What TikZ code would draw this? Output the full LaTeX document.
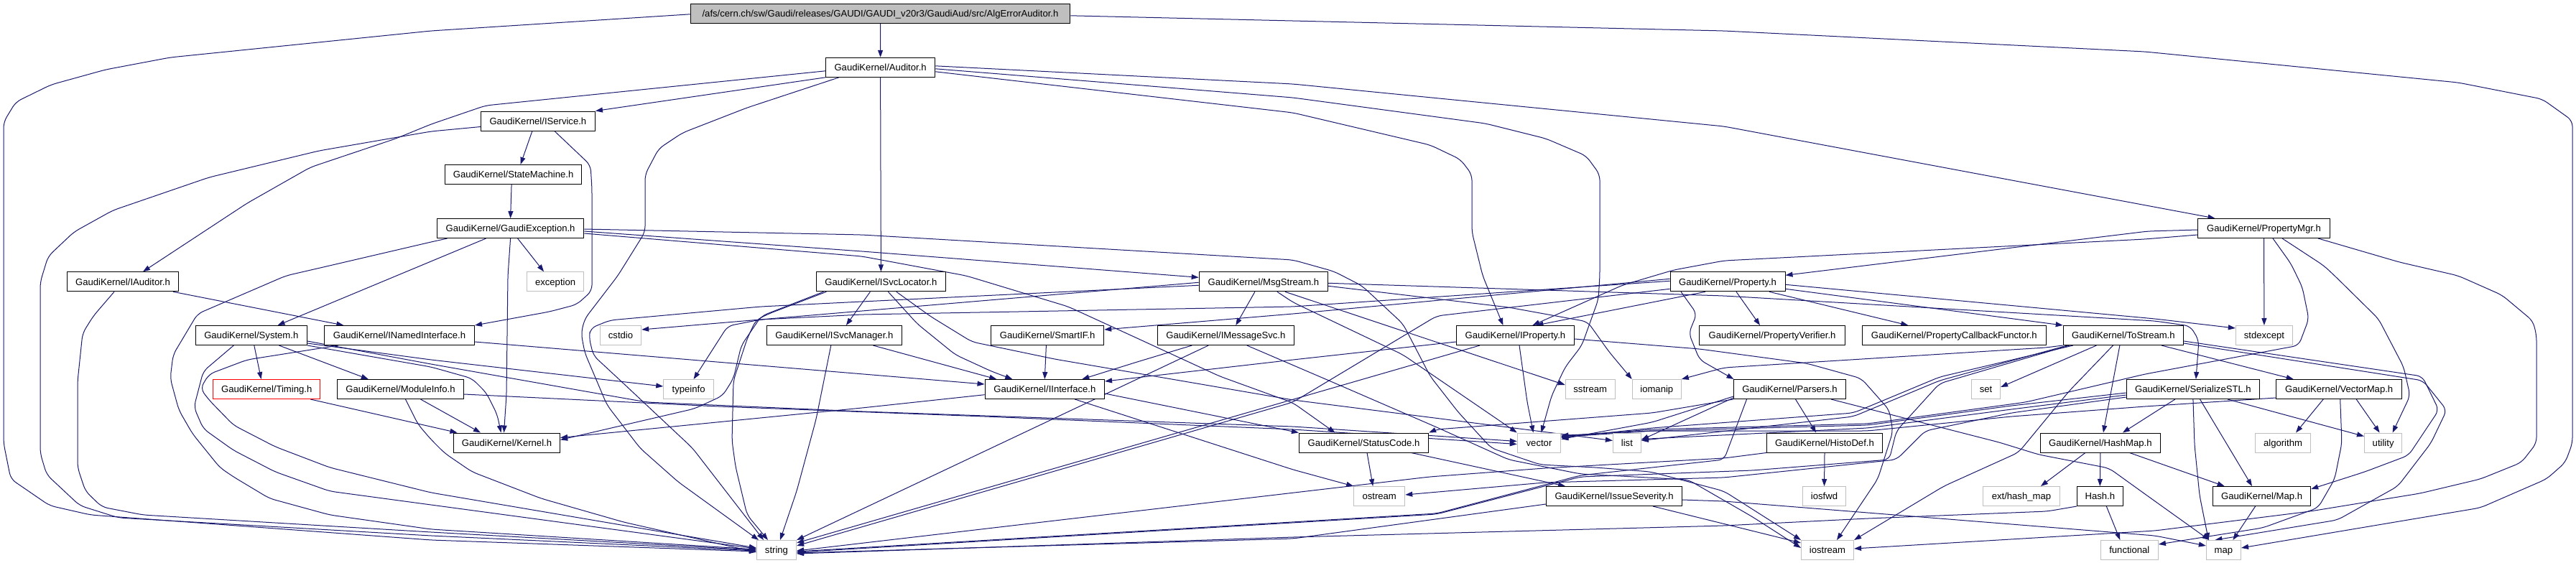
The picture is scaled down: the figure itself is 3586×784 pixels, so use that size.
\documentclass[tikz,border=0pt]{standalone}
\usepackage{fontspec}
\setmainfont{Liberation Sans}
\usetikzlibrary{arrows.meta}
\definecolor{edgecol}{HTML}{191970}
\definecolor{sysgray}{HTML}{BFBFBF}
\definecolor{rootfill}{HTML}{BFBFBF}
\newcommand\gfont{\fontsize{13.1}{15}\selectfont}
\pgfdeclarelayer{bg}
\pgfsetlayers{bg,main}
\tikzset{
  nd/.style={draw=black, line width=1pt, fill=white, minimum height=27pt, inner sep=0pt, text height=9.6pt, text depth=0.2pt, font=\gfont, text=black},
  sys/.style={nd, draw=sysgray},
  lnk/.style={draw=edgecol, line width=1pt, rounded corners=8pt, -{Triangle[length=10pt,width=7pt]}},
}
\begin{document}
\begin{tikzpicture}[x=1pt,y=-1pt]
\useasboundingbox (0,0) rectangle (3586,784);
% ---------------- nodes
\node[nd, fill=rootfill, minimum width=528.5pt] (root) at (1225.5,18.8) {/afs/cern.ch/sw/Gaudi/releases/GAUDI/GAUDI\_v20r3/GaudiAud/src/AlgErrorAuditor.h};
\node[nd, minimum width=152.3pt] (auditor) at (1225.6,93.8) {GaudiKernel/Auditor.h};
\node[nd, minimum width=159.1pt] (iservice) at (748.9,168.5) {GaudiKernel/IService.h};
\node[nd, minimum width=190.2pt] (statemachine) at (714.6,243) {GaudiKernel/StateMachine.h};
\node[nd, minimum width=204.4pt] (gexc) at (710.6,318) {GaudiKernel/GaudiException.h};
\node[nd, minimum width=184pt] (propmgr) at (3151.5,318) {GaudiKernel/PropertyMgr.h};
\node[nd, minimum width=155.3pt] (iauditor) at (171,392.3) {GaudiKernel/IAuditor.h};
\node[sys, minimum width=79.3pt] (exception) at (773.1,392.3) {exception};
\node[nd, minimum width=179.8pt] (isvcloc) at (1226.4,392.3) {GaudiKernel/ISvcLocator.h};
\node[nd, minimum width=179.5pt] (msgstream) at (1758.9,392.3) {GaudiKernel/MsgStream.h};
\node[nd, minimum width=160pt] (property) at (2405,392.3) {GaudiKernel/Property.h};
\node[nd, minimum width=155.3pt] (system) at (349.8,467) {GaudiKernel/System.h};
\node[nd, minimum width=209pt] (inamed) at (556,467) {GaudiKernel/INamedInterface.h};
\node[sys, minimum width=57.4pt] (cstdio) at (864,467) {cstdio};
\node[nd, minimum width=188.3pt] (isvcmgr) at (1161.4,467) {GaudiKernel/ISvcManager.h};
\node[nd, minimum width=157.2pt] (smartif) at (1458.1,467) {GaudiKernel/SmartIF.h};
\node[nd, minimum width=189.7pt] (imsgsvc) at (1706.3,467) {GaudiKernel/IMessageSvc.h};
\node[nd, minimum width=164.2pt] (iproperty) at (2109.4,467) {GaudiKernel/IProperty.h};
\node[nd, minimum width=202.8pt] (propverifier) at (2467,467) {GaudiKernel/PropertyVerifier.h};
\node[nd, minimum width=256.4pt] (propcb) at (2720.3,467) {GaudiKernel/PropertyCallbackFunctor.h};
\node[nd, minimum width=167.4pt] (tostream) at (2955.9,467) {GaudiKernel/ToStream.h};
\node[sys, minimum width=79.2pt] (stdexcept) at (3151.9,467) {stdexcept};
\node[nd, draw=red, minimum width=149.2pt] (timing) at (371.2,542) {GaudiKernel/Timing.h};
\node[nd, minimum width=176pt] (moduleinfo) at (557.5,542) {GaudiKernel/ModuleInfo.h};
\node[sys, minimum width=69.7pt] (typeinfo) at (958.6,542) {typeinfo};
\node[nd, minimum width=166.5pt] (iinterface) at (1454.3,542) {GaudiKernel/IInterface.h};
\node[sys, minimum width=68.9pt] (sstream) at (2213.7,542) {sstream};
\node[sys, minimum width=68.1pt] (iomanip) at (2306.3,542) {iomanip};
\node[nd, minimum width=156.1pt] (parsers) at (2491.5,542) {GaudiKernel/Parsers.h};
\node[sys, minimum width=40.2pt] (set) at (2764.5,542) {set};
\node[nd, minimum width=185.4pt] (serialize) at (3052.9,542) {GaudiKernel/SerializeSTL.h};
\node[nd, minimum width=175.3pt] (vectormap) at (3256.2,542) {GaudiKernel/VectorMap.h};
\node[nd, minimum width=148.1pt] (kernel) at (705.5,616.5) {GaudiKernel/Kernel.h};
\node[nd, minimum width=180.2pt] (statuscode) at (1898.5,616.5) {GaudiKernel/StatusCode.h};
\node[sys, minimum width=60.5pt] (vector) at (2142.5,616.5) {vector};
\node[sys, minimum width=39pt] (list) at (2264.9,616.5) {list};
\node[nd, minimum width=161.5pt] (histodef) at (2540,616.5) {GaudiKernel/HistoDef.h};
\node[nd, minimum width=167pt] (hashmap) at (2923.9,616.5) {GaudiKernel/HashMap.h};
\node[sys, minimum width=77.3pt] (algorithm) at (3178,616.5) {algorithm};
\node[sys, minimum width=52.4pt] (utility) at (3317.6,616.5) {utility};
\node[sys, minimum width=71.1pt] (ostream) at (1920.2,691) {ostream};
\node[nd, minimum width=189.1pt] (issue) at (2247,691) {GaudiKernel/IssueSeverity.h};
\node[sys, minimum width=60.1pt] (iosfwd) at (2539.5,691) {iosfwd};
\node[sys, minimum width=106.7pt] (hashext) at (2813.9,691) {ext/hash\_map};
\node[nd, minimum width=63.9pt] (hash) at (2923.3,691) {Hash.h};
\node[nd, minimum width=136.2pt] (mapk) at (3148.6,691) {GaudiKernel/Map.h};
\node[sys, minimum width=55.2pt] (string) at (1081,766) {string};
\node[sys, minimum width=73.1pt] (iostream) at (2544,766) {iostream};
\node[sys, minimum width=80.2pt] (functional) at (2964.3,766) {functional};
\node[sys, minimum width=48.2pt] (map) at (3095.4,766) {map};
% ---------------- edges
\begin{pgfonlayer}{bg}
\fill[white] (0,0) rectangle (3586,784);
% root
\draw[lnk] (root.south) -- (auditor.north);
\draw[lnk] ([yshift=-1pt]root.west) -- (600,43) -- (237,80) -- (147,97) -- (71,118) -- (22,142) -- (5,170) -- (5,617) -- (15,667) -- (69,704) -- (126,717) -- (600,752) -- ([yshift=-2pt]string.west);
\draw[lnk] ([yshift=-3pt]root.east) -- (2400,43) -- (2986,72) -- (3422,115) -- (3539,138) -- (3581,168) -- (3581,617) -- (3571,644) -- (3545,667) -- (3453,707) -- ([yshift=3pt]map.east);
% auditor
\draw[lnk] (auditor.south west) -- (iservice.north east);
\draw[lnk] ([yshift=-5pt]auditor.west) -- (676,147) -- (600,173) -- (551,193) -- (432,233) -- (344,283) -- ([xshift=28pt]iauditor.north);
\draw[lnk] (auditor.south) -- (isvcloc.north);
\draw[lnk] ([xshift=-57.6pt]auditor.south) -- (1040,150) -- (950,185) -- (917,207) -- (898,243) -- (898,323) -- (860,384) -- (814,444) -- (809,464) -- (814,491) -- (845,564) -- (891,624) -- (944,671) -- ([xshift=-25pt]string.north);
\draw[lnk] ([yshift=2pt]auditor.east) -- (1800,117) -- (2400,176) -- ([xshift=-68pt]propmgr.north);
\draw[lnk] ([yshift=-6pt]auditor.east) -- (1800,157) -- (1991,202) -- (2033,222) -- (2049,243) -- (2049,323) -- (2064,384) -- ([xshift=-17pt]iproperty.north);
\draw[lnk] ([yshift=-2pt]auditor.east) -- (1800,136) -- (2068,172) -- (2152,193) -- (2208,217) -- (2227,243) -- (2227,384) -- (2225,417) -- (2202,481) -- (2179,511) -- (2160,551) -- ([xshift=3pt]vector.north);
% iservice
\draw[lnk] ([xshift=-8pt]iservice.south) -- ([xshift=10pt]statemachine.north);
\draw[lnk] ([xshift=23pt]iservice.south) -- (822,230) -- (824,262) -- (824,405) -- (803,424) -- (765,434) -- (inamed.north east);
\draw[lnk] ([yshift=-8pt]iservice.west) -- (600,183) -- (444,210) -- (291,247) -- (157,293) -- (103,323) -- (67,357) -- (56,393) -- (56,631) -- (65,661) -- (111,704) -- (165,721) -- (600,746) -- ([yshift=-1pt]string.west);
% iauditor
\draw[lnk] ([xshift=70pt]iauditor.south) -- ([xshift=-77.6pt]inamed.north);
\draw[lnk] ([xshift=-12pt]iauditor.south) -- (130,440) -- (115,464) -- (108,531) -- (108,651) -- (119,684) -- (142,706) -- (199,717) -- (600,741) -- (string.west);
% statemachine
\draw[lnk] ([xshift=-2.5pt]statemachine.south) -- (gexc.north);
% gaudi exception
\draw[lnk] ([xshift=10pt]gexc.south) -- ([xshift=-16pt]exception.north);
\draw[lnk] (gexc.south) -- (707,384) -- (705,550) -- ([xshift=-4pt]kernel.north);
\draw[lnk] ([xshift=-34pt]gexc.south) -- ([xshift=36.7pt]system.north);
\draw[lnk] ([xshift=-88pt]gexc.south) -- (600,337) -- (450,372) -- (398,384) -- (275,437) -- (241,494) -- (237,527) -- (249,571) -- (268,604) -- (306,651) -- (325,664) -- (375,694) -- (459,717) -- (600,737) -- ([yshift=1pt]string.west);
\draw[lnk] ([yshift=-4pt]gexc.east) -- (1200,350) -- ([yshift=6pt]msgstream.west);
\draw[lnk] ([yshift=-1pt]gexc.east) -- (1200,327) -- (1800,362) -- (1857,378) -- (1896,398) -- (1953,451) -- (1991,524) -- (2030,574) -- (2076,624) -- (2144,647) -- (2221,651) -- (2298,657) -- (2400,684) -- (iostream.north west);
\draw[lnk] ([yshift=-7pt]gexc.east) -- (1200,357) -- (1345,384) -- (1487,427) -- (1583,471) -- (1698,524) -- (1800,561) -- ([xshift=-40pt]statuscode.north);
% system
\draw[lnk] ([xshift=4pt]system.south) -- ([xshift=-7.6pt]timing.north);
\draw[lnk] ([xshift=38.6pt]system.south) -- ([xshift=-44.7pt]moduleinfo.north);
\draw[lnk] ([yshift=-11pt]system.east) -- (600,501) -- ([yshift=4pt]typeinfo.west);
\draw[lnk] (system.south east) -- (600,511) -- (657,527) -- (677,547) -- (692,577) -- ([xshift=-8pt]kernel.north);
\draw[lnk] ([xshift=-24.5pt]system.south) -- (283,517) -- (270,567) -- (283,597) -- (325,627) -- (383,657) -- (459,684) -- (600,703) -- ([yshift=2pt]string.west);
\draw[lnk] ([yshift=-8pt]system.east) -- (600,507) -- (900,560) -- (1200,573) -- (1800,594) -- ([yshift=2pt]vector.west);
% inamed
\draw[lnk] ([yshift=-9pt]inamed.east) -- ([yshift=7pt]iinterface.west);
\draw[lnk] ([xshift=-85pt]inamed.south) -- (344,501) -- (291,521) -- (279,541) -- (291,557) -- (325,592) -- (383,622) -- (459,651) -- (600,686) -- ([yshift=3pt]string.west);
% timing, moduleinfo
\draw[lnk] ([xshift=61pt]timing.south) -- ([xshift=-69pt]kernel.north);
\draw[lnk] ([xshift=28pt]moduleinfo.south) -- ([xshift=-36.5pt]kernel.north);
\draw[lnk] ([xshift=7pt]moduleinfo.south) -- (582,591) -- (600,612) -- (619,631) -- (657,657) -- (753,694) -- (868,727) -- ([yshift=-3pt]string.west);
\draw[lnk] ([yshift=-7pt]moduleinfo.east) -- (1000,566) -- (1371,580) -- (1800,598) -- ([yshift=-2pt]vector.west);
% isvclocator
\draw[lnk] ([xshift=-15pt]isvcloc.south) -- ([xshift=16.5pt]isvcmgr.north);
\draw[lnk] ([xshift=10pt]isvcloc.south) -- (1277,451) -- (1330,494) -- (1380,517) -- ([xshift=-45pt]iinterface.north);
\draw[lnk] ([xshift=21.4pt]isvcloc.south) -- (1296,441) -- (1353,476) -- (1468,500) -- (1800,557) -- ([yshift=3pt]list.west);
\draw[lnk] ([xshift=-76pt]isvcloc.south) -- (1070,437) -- (1052,446) -- (1040,472) -- (1021,530) -- (1019,614) -- (1024,650) -- (1040,717) -- ([xshift=-12pt]string.north);
\draw[lnk] ([xshift=-80pt]isvcloc.south) -- (1060,440) -- (1032,481) -- (1021,527) -- (1006,551) -- (967,569) -- ([yshift=4pt]kernel.east);
% isvcmanager, smartif, imessagesvc
\draw[lnk] ([xshift=54pt]isvcmgr.south) -- ([xshift=-67pt]iinterface.north);
\draw[lnk] ([xshift=-4.6pt]isvcmgr.south) -- (1136,584) -- (1109,684) -- ([xshift=5pt]string.north);
\draw[lnk] ([xshift=-1.7pt]smartif.south) -- (iinterface.north);
\draw[lnk] ([xshift=-47pt]imsgsvc.south) -- (1583,504) -- ([xshift=52pt]iinterface.north);
\draw[lnk] ([xshift=-24pt]imsgsvc.south) -- (string.north east);
\draw[lnk] ([xshift=29.5pt]imsgsvc.south) -- (1850,530) -- (2000,595) -- (2100,640) -- (2200,660) -- (2350,668) -- (2440,720) -- ([yshift=3pt]iostream.west);
% msgstream
\draw[lnk] ([xshift=-12pt]msgstream.south) -- ([xshift=14pt]imsgsvc.north);
\draw[lnk] ([yshift=-1pt]msgstream.west) -- ([yshift=8pt]cstdio.east);
\draw[lnk] ([yshift=-5pt]msgstream.west) -- (1200,420) -- (1059,427) -- (849,446) -- (822,457) -- (820,470) -- (826,495) -- (868,534) -- (964,624) -- ([xshift=-18pt]string.north);
\draw[lnk] ([xshift=30pt]msgstream.south) -- ([yshift=6pt]sstream.west);
\draw[lnk] ([yshift=-6pt]msgstream.east) -- (2100,428) -- (2210,448) -- (2240,490) -- (iomanip.north west);
\draw[lnk] ([xshift=19pt]msgstream.south) -- (1800,421) -- (1953,494) -- (vector.north west);
\draw[lnk] ([yshift=-2pt]msgstream.east) -- (2400,412) -- (3000,447) -- (3049,454) -- (3061,474) -- ([xshift=4pt]serialize.north);
% property
\draw[lnk] ([xshift=-31pt]property.south) -- ([xshift=29pt]iproperty.north);
\draw[lnk] ([xshift=12pt]property.south) -- ([xshift=-17pt]propverifier.north);
\draw[lnk] ([xshift=58pt]property.south) -- ([xshift=-64pt]propcb.north);
\draw[lnk] ([yshift=-10pt]property.east) -- (tostream.north west);
\draw[lnk] ([yshift=-4pt]property.east) -- (3000,444) -- ([yshift=10pt]stdexcept.west);
\draw[lnk] ([xshift=-65pt]property.south) -- (2362,437) -- (2351,464) -- (2366,501) -- ([xshift=-78pt]parsers.north);
\draw[lnk] ([yshift=4pt]property.west) -- (1800,437) -- ([yshift=8pt]smartif.east);
\draw[lnk] ([yshift=1pt]property.west) -- (1800,427) -- (1200,438) -- (1059,445) -- (1013,454) -- ([xshift=7pt]typeinfo.north);
\draw[lnk] ([yshift=-10pt]property.west) -- (2000,440) -- (1800,560) -- ([yshift=6pt]string.east);
% propertymgr
\draw[lnk] ([yshift=-2pt]propmgr.west) -- (2990,322) -- ([yshift=9pt]property.east);
\draw[lnk] ([yshift=-9pt]propmgr.west) -- (2986,333) -- (2400,363) -- (2330,376) -- (2259,397) -- ([xshift=24pt]iproperty.north);
\draw[lnk] (propmgr.south) -- (stdexcept.north);
\draw[lnk] ([xshift=25.5pt]propmgr.south) -- (3235,370) -- (3250,384) -- (3311,444) -- (3346,511) -- (3355,551) -- ([xshift=13pt]utility.north);
\draw[lnk] ([xshift=12.5pt]propmgr.south) -- (3189,367) -- (3205,400) -- (3214,444) -- (3200,481) -- (2986,521) -- (2820,560) -- (2600,590) -- (2300,598) -- ([yshift=9pt]vector.east);
\draw[lnk] ([xshift=75.5pt]propmgr.south) -- (3340,365) -- (3422,384) -- (3483,411) -- (3526,447) -- (3531,467) -- (3531,617) -- (3510,644) -- (3453,667) -- (3369,687) -- (3216,712) -- (3000,739) -- ([yshift=2pt]iostream.east);
% iproperty
\draw[lnk] ([yshift=-9pt]iproperty.west) -- (1800,501) -- ([yshift=11pt]iinterface.east);
\draw[lnk] ([xshift=-49.4pt]iproperty.south) -- ([yshift=10pt]string.east);
\draw[lnk] ([xshift=5.6pt]iproperty.south) -- (2126,560) -- ([xshift=-8pt]vector.north);
\draw[lnk] ([yshift=-5pt]iproperty.east) -- (2366,486) -- (2515,506) -- (2591,527) -- (2630,571) -- (2635,601) -- (2614,667) -- ([xshift=13pt]iostream.north);
% parsers
\draw[lnk] ([xshift=8pt]parsers.south) -- ([xshift=-11.8pt]histodef.north);
\draw[lnk] ([xshift=57.5pt]parsers.south) -- (2783,616) -- (2838,633) -- (2936,652) -- (2986,688) -- ([xshift=-20pt]map.north);
\draw[lnk] (parsers.south west) -- (2300,575) -- (2000,598) -- (statuscode.north east);
\draw[lnk] ([yshift=-10pt]parsers.west) -- (2300,588) -- ([yshift=5pt]vector.east);
\draw[lnk] ([yshift=-12pt]parsers.west) -- ([yshift=4pt]list.east);
\draw[lnk] ([xshift=-60pt]parsers.south) -- (2400,640) -- (2200,662) -- (2000,715) -- ([yshift=-2pt]string.east);
% tostream
\draw[lnk] ([xshift=-37.4pt]tostream.south) -- ([yshift=3pt]set.east);
\draw[lnk] ([xshift=-5pt]tostream.south) -- ([xshift=4pt]hashmap.north);
\draw[lnk] ([xshift=-14.4pt]tostream.south) -- (2880,545) -- (2810,630) -- (2706,677) -- (iostream.north east);
\draw[lnk] ([xshift=53pt]tostream.south) -- ([xshift=-63.5pt]vectormap.north);
\draw[lnk] ([yshift=-8pt]tostream.east) -- (3372,524) -- (3395,571) -- (3353,634) -- (3292,657) -- ([yshift=10pt]mapk.east);
\draw[lnk] ([yshift=-11pt]tostream.east) -- (3373,530) -- (3406,571) -- (3384,617) -- (3338,677) -- (3254,724) -- ([xshift=-12pt]map.north);
\draw[lnk] (tostream.south west) -- (2848,484) -- (2400,512) -- (iomanip.north east);
\draw[lnk] ([xshift=-70pt]tostream.south) -- (2700,525) -- (2580,575) -- (2300,596) -- ([yshift=7pt]vector.east);
\draw[lnk] ([xshift=-78pt]tostream.south) -- (2700,530) -- (2580,580) -- ([yshift=3pt]list.east);
\draw[lnk] ([xshift=-75pt]tostream.south) -- (2700,534) -- (2640,600) -- (2630,640) -- (2440,655) -- (2200,664) -- (2000,716) -- ([yshift=-3pt]string.east);
% serialize
\draw[lnk] ([xshift=-25pt]serialize.south) -- ([xshift=31pt]hashmap.north);
\draw[lnk] (serialize.south) -- (3055,620) -- (3062,690) -- ([xshift=-21pt]map.north);
\draw[lnk] ([xshift=9.6pt]serialize.south) -- ([xshift=-13.6pt]mapk.north);
\draw[lnk] ([xshift=48pt]serialize.south) -- ([yshift=9pt]utility.west);
\draw[lnk] ([yshift=-5pt]serialize.west) -- (2800,565) -- (2600,592) -- (2300,600) -- ([yshift=8pt]vector.east);
\draw[lnk] ([yshift=-8pt]serialize.west) -- (2800,570) -- (2600,596) -- ([yshift=5pt]list.east);
\draw[lnk] ([yshift=-11pt]serialize.west) -- (2800,575) -- (2680,600) -- (2640,640) -- (2400,665) -- (2150,672) -- ([yshift=2pt]ostream.east);
% vectormap
\draw[lnk] ([xshift=-22pt]vectormap.south) -- ([xshift=18pt]algorithm.north);
\draw[lnk] ([xshift=24pt]vectormap.south) -- ([xshift=-5pt]utility.north);
\draw[lnk] ([yshift=-12pt]vectormap.west) -- (2986,566) -- (2800,580) -- (2600,600) -- (2300,600) -- ([yshift=10pt]vector.east);
\draw[lnk] ([xshift=1.5pt]vectormap.south) -- (3260,617) -- (3250,667) -- (3227,707) -- (3150,735) -- ([yshift=8pt]functional.east);
% hashmap, hash, map
\draw[lnk] (hashmap.south) -- (hash.north);
\draw[lnk] ([xshift=-21pt]hashmap.south) -- ([xshift=27pt]hashext.north);
\draw[lnk] ([xshift=40.6pt]hashmap.south) -- ([xshift=-52pt]mapk.north);
\draw[lnk] ([xshift=9pt]hash.south) -- ([xshift=-13pt]functional.north);
\draw[lnk] (hash.south west) -- (2850,712) -- (2600,722) -- (2400,732) -- (1800,748) -- ([yshift=-5pt]string.east);
\draw[lnk] ([xshift=-9pt]mapk.south) -- ([xshift=13pt]map.north);
% histodef
\draw[lnk] (histodef.south) -- (iosfwd.north);
\draw[lnk] (histodef.south west) -- (2400,638) -- (2150,652) -- (1990,664) -- ([yshift=-1pt]string.east);
% issue severity, statuscode
\draw[lnk] ([yshift=-11pt]issue.west) -- (1800,750) -- ([yshift=-4pt]string.east);
\draw[lnk] ([yshift=-5pt]issue.east) -- (2400,698) -- (3000,746) -- ([yshift=6pt]map.west);
\draw[lnk] ([xshift=54pt]issue.south) -- ([yshift=10pt]iostream.west);
\draw[lnk] ([xshift=4.5pt]statuscode.south) -- ([xshift=-9pt]ostream.north);
\draw[lnk] ([xshift=66pt]statuscode.south) -- ([xshift=-68pt]issue.north);
% iinterface
\draw[lnk] ([yshift=-7.7pt]iinterface.west) -- (1200,568) -- ([yshift=7pt]kernel.east);
\draw[lnk] ([yshift=-6pt]iinterface.east) -- (statuscode.north west);
\draw[lnk] ([xshift=42pt]iinterface.south) -- (1800,654) -- (ostream.north west);
\end{pgfonlayer}
\end{tikzpicture}
\end{document}
